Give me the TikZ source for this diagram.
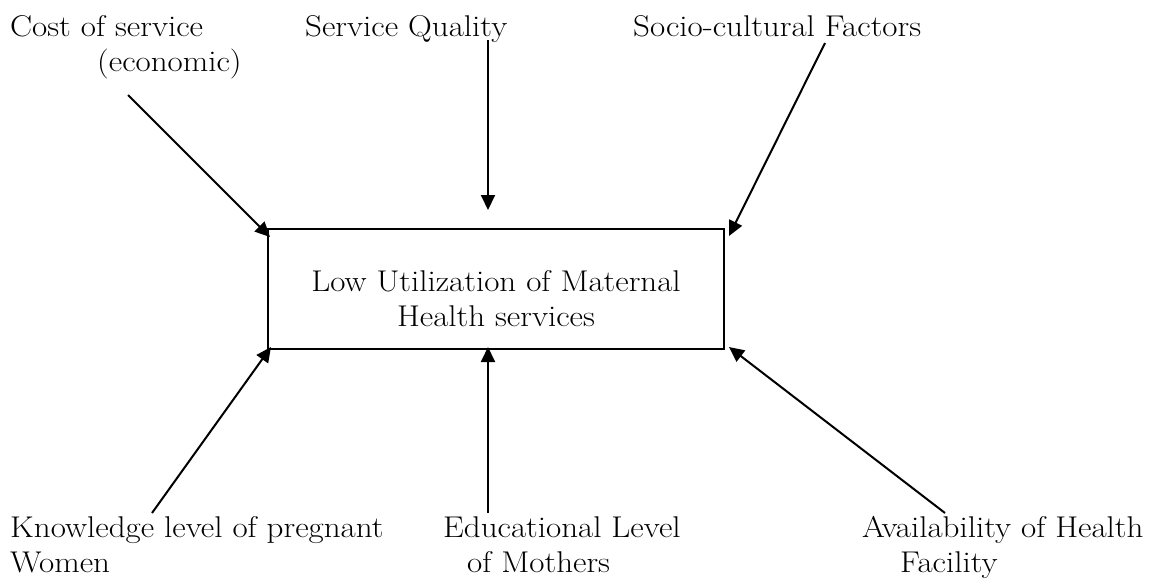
\documentclass[tikz,border=0pt]{standalone}
\usepackage{fontspec}
\setmainfont{Latin Modern Roman}[FakeStretch=1.1]
\usetikzlibrary{arrows.meta,positioning}

\begin{document}
\begin{tikzpicture}[x=1pt,y=-1pt,
  font=\fontsize{30}{35}\selectfont,
  lbl/.style={inner sep=0pt,anchor=north west,align=left},
  arr/.style={line width=2pt,-{Triangle[length=15pt,width=14pt]}}]
\useasboundingbox (0,0) rectangle (1149,579);
\node [draw,line width=2pt,minimum width=456pt,minimum height=120pt,inner sep=0pt] (box) at (496,289) {};
\node [inner sep=0pt,align=center] (outcome) at (496,299) {Low Utilization of Maternal\\Health services};
\node [lbl] (cost) at (10,15) {Cost of service\\\hspace*{87pt}(economic)};
\node [lbl] (quality) at (305,15) {Service Quality};
\node [lbl] (socio) at (633,15) {Socio-cultural Factors};
\node [lbl] (knowledge) at (10,516) {Knowledge level of pregnant\\Women};
\node [lbl] (education) at (443,516) {Educational Level\\\hspace*{24pt}of Mothers};
\node [lbl] (avail) at (862,516) {Availability of Health\\\hspace*{38pt}Facility};
\coordinate (costfrom) at (128,95);
\coordinate (costto) at (270,237);
\coordinate (qualityfrom) at (488,40);
\coordinate (qualityto) at (488,210);
\coordinate (sociofrom) at (825,43);
\coordinate (socioto) at (729,236);
\coordinate (knowfrom) at (152,513);
\coordinate (knowto) at (271,347);
\coordinate (edufrom) at (488,513);
\coordinate (eduto) at (488,347);
\coordinate (availfrom) at (945,513);
\coordinate (availto) at (729,347);
\draw [arr] (costfrom) -- (costto);
\draw [arr] (qualityfrom) -- (qualityto);
\draw [arr] (sociofrom) -- (socioto);
\draw [arr] (knowfrom) -- (knowto);
\draw [arr] (edufrom) -- (eduto);
\draw [arr] (availfrom) -- (availto);
\end{tikzpicture}
\end{document}
